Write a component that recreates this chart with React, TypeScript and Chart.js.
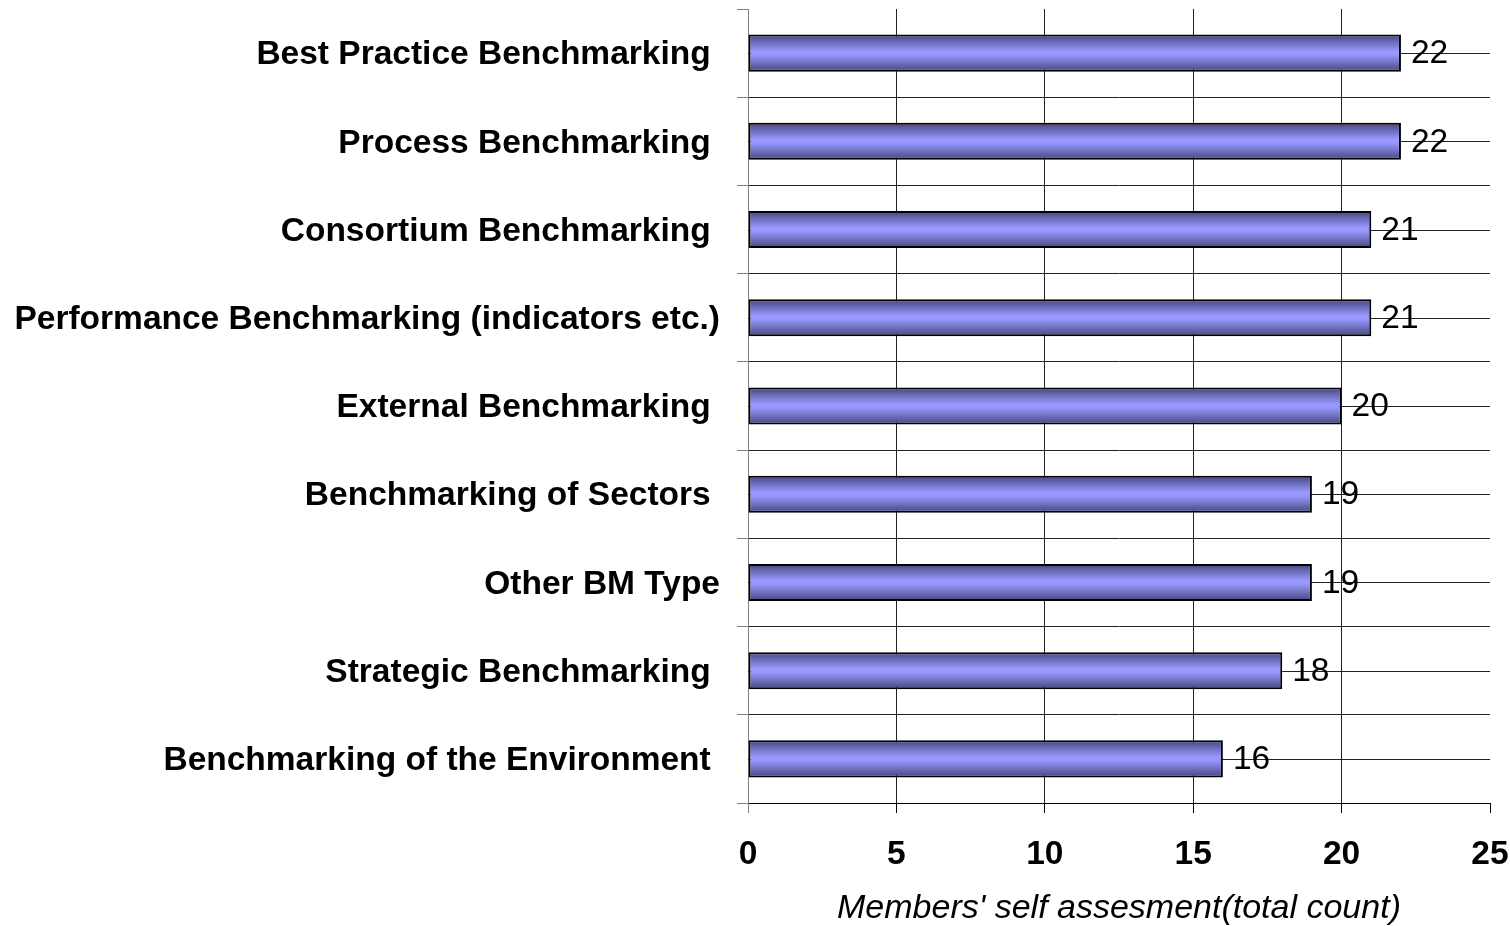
import React, { useEffect, useRef } from "react";
import { Chart, registerables } from "chart.js";

Chart.register(...registerables);

const categories = [
  "Best Practice Benchmarking ",
  "Process Benchmarking ",
  "Consortium Benchmarking ",
  "Performance Benchmarking (indicators etc.)",
  "External Benchmarking ",
  "Benchmarking of Sectors ",
  "Other BM Type",
  "Strategic Benchmarking ",
  "Benchmarking of the Environment ",
];
const values = [22, 22, 21, 21, 20, 19, 19, 18, 16];
const xMin = 0;
const xMax = 25;
const xStep = 5;
const xTitle = "Members' self assesment(total count)";

const FONT = "'Liberation Sans', Arial, Helvetica, sans-serif";
const BAR_PCT = 0.42;
const GRID = "#222222";
const AXIS_GRAY = "#808080";

const centerLines = {
  id: "centerLines",
  beforeDatasetsDraw(chart: any) {
    const { ctx, chartArea, scales } = chart;
    const y = scales.y;
    ctx.save();
    ctx.strokeStyle = GRID;
    ctx.lineWidth = 1;
    for (let i = 0; i < categories.length; i++) {
      const py = Math.round(y.getPixelForValue(i)) + 0.5;
      ctx.beginPath();
      ctx.moveTo(chartArea.left, py);
      ctx.lineTo(chartArea.right, py);
      ctx.stroke();
    }
    ctx.restore();
  },
};

const valueLabels = {
  id: "valueLabels",
  afterDatasetsDraw(chart: any) {
    const { ctx } = chart;
    const meta = chart.getDatasetMeta(0);
    ctx.save();
    ctx.font = `33.5px ${FONT}`;
    ctx.fillStyle = "#000";
    ctx.textAlign = "left";
    ctx.textBaseline = "middle";
    meta.data.forEach((el: any, i: number) => {
      ctx.fillText(String(values[i]), el.x + 10, el.y + 1);
    });
    ctx.restore();
  },
};

export default function App() {
  const ref = useRef<HTMLCanvasElement | null>(null);

  useEffect(() => {
    document.body.style.margin = "0";
    const canvas = ref.current;
    if (!canvas) return;
    const chart = new Chart(canvas, {
      type: "bar",
      data: {
        labels: categories,
        datasets: [
          {
            data: values,
            borderColor: "#000000",
            borderWidth: 2,
            borderSkipped: false,
            categoryPercentage: 1,
            barPercentage: BAR_PCT,
            backgroundColor: (c: any) => {
              const chart = c.chart;
              if (!chart.chartArea || c.dataIndex === undefined) return "#9999ff";
              const ys = chart.scales.y;
              const center = ys.getPixelForValue(c.dataIndex);
              const half = ((ys.height / categories.length) * BAR_PCT) / 2;
              const g = chart.ctx.createLinearGradient(0, center - half, 0, center + half);
              g.addColorStop(0, "#45457e");
              g.addColorStop(0.45, "#9999ff");
              g.addColorStop(0.55, "#9797fc");
              g.addColorStop(1, "#45457e");
              return g;
            },
          },
        ],
      },
      options: {
        indexAxis: "y",
        responsive: false,
        animation: false,
        layout: { padding: { left: 0, right: 20, top: 9, bottom: 0 } },
        plugins: {
          legend: { display: false },
          tooltip: { enabled: false },
          title: { display: false },
        },
        scales: {
          x: {
            type: "linear",
            min: xMin,
            max: xMax,
            ticks: {
              stepSize: xStep,
              color: "#000",
              font: { family: FONT, size: 33.5, weight: "bold", lineHeight: 1 },
              padding: 25,
              maxRotation: 0,
            },
            grid: {
              color: (c: any) =>
                c.index === 0 || c.index === 5 ? "rgba(0,0,0,0)" : GRID,
              tickColor: (c: any) => (c.index === 0 ? AXIS_GRAY : "#000"),
              tickLength: 10,
              lineWidth: 1,
            },
            border: { color: "#000", width: 1 },
            title: {
              display: true,
              text: xTitle,
              color: "#000",
              font: { family: FONT, size: 34, style: "italic", lineHeight: 1 },
              padding: { top: 0, bottom: 0 },
            },
            afterFit: (s: any) => {
              s.height = 123;
              s.paddingLeft = 0;
              s.paddingRight = 0;
            },
          },
          y: {
            type: "category",
            ticks: {
              color: "#000",
              font: { family: FONT, size: 33.5, weight: "bold", lineHeight: 1 },
              padding: 17,
              labelOffset: 2,
              autoSkip: false,
            },
            grid: {
              offset: true,
              color: (c: any) => (c.index === 0 ? "rgba(0,0,0,0)" : GRID),
              tickColor: AXIS_GRAY,
              tickLength: 11,
              lineWidth: 1,
            },
            border: { color: AXIS_GRAY, width: 1 },
            afterFit: (s: any) => {
              s.width = 748;
              s.paddingTop = 0;
              s.paddingBottom = 0;
            },
          },
        },
      },
      plugins: [centerLines, valueLabels],
    } as any);
    return () => chart.destroy();
  }, []);

  return (
    <div style={{ width: 1510, height: 926, position: "relative", background: "#fff" }}>
      <canvas ref={ref} width={1510} height={926} style={{ display: "block", width: 1510, height: 926 }} />
    </div>
  );
}
